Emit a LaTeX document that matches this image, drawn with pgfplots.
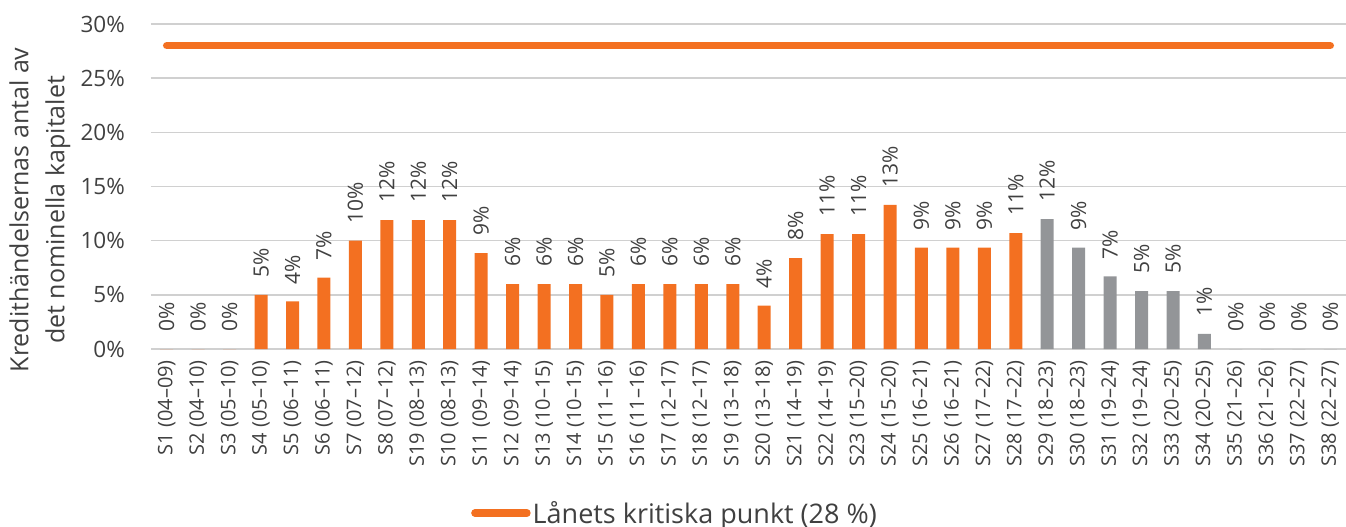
\documentclass[border=0pt]{standalone}
\usepackage{pgfplots}
\pgfplotsset{compat=1.18}
\usepackage{fontspec}
\setmainfont{Open Sans}
\definecolor{orng}{HTML}{F37021}
\definecolor{gry}{HTML}{939598}
\definecolor{grd}{HTML}{D0D0D0}
\definecolor{txt}{HTML}{404040}
\begin{document}
\begin{tikzpicture}[x=1pt,y=1pt]
\begin{axis}[
  at={(0pt,0pt)}, anchor=south west,
  scale only axis, width=1195pt, height=325pt,
  xmin=0.5, xmax=38.5, ymin=0, ymax=30,
  axis line style={draw=none},
  major tick length=0pt,
  /pgf/number format/assume math mode=true,
  ymajorgrids, grid style={grd, line width=1.6pt},
  ytick={0,5,10,15,20,25,30},
  yticklabels={0\%,5\%,10\%,15\%,20\%,25\%,30\%},
  yticklabel style={font=\fontsize{22.5}{26}\selectfont, text=txt, anchor=east, inner sep=0pt, xshift=-26pt},
  xtick={1,...,38},
  xticklabels={S1 (04–09),S2 (04–10),S3 (05–10),S4 (05–10),S5 (06–11),S6 (06–11),S7 (07–12),S8 (07–12),S19 (08–13),S10 (08–13),S11 (09–14),S12 (09–14),S13 (10–15),S14 (10–15),S15 (11–16),S16 (11–16),S17 (12–17),S18 (12–17),S19 (13–18),S20 (13–18),S21 (14–19),S22 (14–19),S23 (15–20),S24 (15–20),S25 (16–21),S26 (16–21),S27 (17–22),S28 (17–22),S29 (18–23),S30 (18–23),S31 (19–24),S32 (19–24),S33 (20–25),S34 (20–25),S35 (21–26),S36 (21–26),S37 (22–27),S38 (22–27)},
  xticklabel shift=11pt,
  xticklabel style={font=\fontsize{20}{22}\selectfont, text=txt, rotate=90, anchor=east, inner sep=0pt},
  ylabel={Kredithändelsernas antal av\\det nominella kapitalet},
  ylabel style={font=\fontsize{25}{36}\selectfont, text=txt, align=center, at={(axis description cs:-0.093,0.428)}, anchor=center},
  clip=false,
  legend style={draw=none, fill=none, at={(axis description cs:0.4385,-0.5046)}, anchor=center, font=\fontsize{27}{30}\selectfont, text=txt, inner sep=0pt},
  legend image code/.code={\draw[#1, line cap=round] (0pt,0pt) -- (52pt,0pt);},
  nodes near coords={\pgfmathprintnumber[fixed,precision=0]{\pgfplotspointmeta}\%},
  every node near coord/.append style={font=\fontsize{21}{24}\selectfont, text=txt, rotate=90, anchor=west, inner xsep=17pt, inner ysep=0pt},
]
\addplot[ybar, bar width=13pt, bar shift=0pt, fill=orng, draw=none, forget plot] coordinates {
(1,0) (2,0) (3,0) (4,5.0) (5,4.4) (6,6.6) (7,10.0) (8,11.9) (9,11.9) (10,11.9)
(11,8.85) (12,6.0) (13,6.0) (14,6.0) (15,5.0) (16,6.0) (17,6.0) (18,6.0) (19,6.0) (20,4.0)
(21,8.4) (22,10.6) (23,10.6) (24,13.3) (25,9.35) (26,9.35) (27,9.35) (28,10.7)};
\addplot[ybar, bar width=13pt, bar shift=0pt, fill=gry, draw=none, forget plot] coordinates {
(29,12.0) (30,9.35) (31,6.7) (32,5.35) (33,5.35) (34,1.4) (35,0) (36,0) (37,0) (38,0)};
\addplot[orng, line width=7.5pt, line cap=round, nodes near coords={}, every node near coord/.style={draw=none}] coordinates {(1,28) (38,28)};
\addlegendentry{Lånets kritiska punkt (28 \%)}
\end{axis}
\pgfresetboundingbox
\path[use as bounding box] (-151pt,-178pt) rectangle (1195pt,349pt);
\end{tikzpicture}
\end{document}
